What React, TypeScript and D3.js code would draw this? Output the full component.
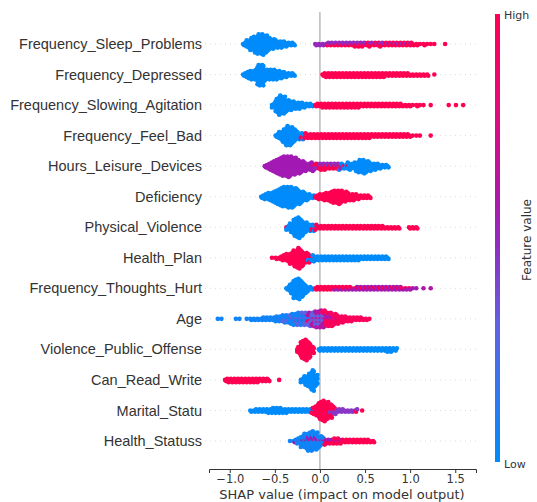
import { useEffect, useRef } from 'react';
import * as d3 from 'd3';

// [start shap value, feature value (0 low .. 1 high), dot counts per 0.04 bin]
type Cluster = [number, number, number[]];

const BIN = 0.04;

const features = [
  'Frequency_Sleep_Problems',
  'Frequency_Depressed',
  'Frequency_Slowing_Agitation',
  'Frequency_Feel_Bad',
  'Hours_Leisure_Devices',
  'Deficiency',
  'Physical_Violence',
  'Health_Plan',
  'Frequency_Thoughts_Hurt',
  'Age',
  'Violence_Public_Offense',
  'Can_Read_Write',
  'Marital_Statu',
  'Health_Statuss',
];

const sleepProblems: Cluster[] = [
  [-0.84, 0, [3, 7, 11, 14, 17, 18, 15, 11, 9, 7, 6, 5, 4, 3, 2]],
  [-0.04, 0.5, [2, 2, 2, 2, 2, 2, 2, 2, 2, 2, 2, 2, 2, 2, 1, 2, 1, 1, 2, 1, 1, 1, 1, 1, 1, 1, 1]],
  [0.08, 1, [1, 1, 1, 1, 1, 1, 1, 1, 2, 2, 2, 2, 2, 2, 2, 2, 2, 2, 2, 2, 2, 2, 2, 2, 2, 2, 1, 2, 1, 1, 1]],
  [1.4, 1, [1]],
];

const depressed: Cluster[] = [
  [-0.84, 0, [3, 6, 8, 9, 18, 18, 10, 9, 9, 8, 7, 5, 4, 3, 2]],
  [0.04, 1, [3, 4, 4, 4, 4, 4, 4, 4, 4, 4, 4, 4, 4, 4, 4, 4, 4, 4, 3, 3, 3, 3, 3, 3, 2, 2, 2, 2, 2, 2]],
  [1.28, 1, [1]],
];

const slowingAgitation: Cluster[] = [
  [-0.52, 0, [4, 12, 17, 15, 10, 8, 7, 6, 5, 4, 3, 2]],
  [-0.04, 1, [3, 3, 4, 4, 4, 4, 4, 4, 4, 4, 4, 4, 4, 3, 3, 3, 3, 3, 3, 3, 3, 3, 3, 3]],
  [0.92, 1, [2, 2, 2, 1, 2, 1, 1, 0, 1, 0]],
  [1.44, 1, [1, 0, 1, 0, 1]],
];

const feelBad: Cluster[] = [
  [-0.48, 0, [3, 7, 12, 17, 16, 11, 7, 4, 2]],
  [-0.2, 1, [2, 3, 4, 4, 4, 4, 4, 4, 4, 4, 4, 4, 4, 4, 4, 4, 4, 4, 4, 4, 3, 3, 3, 3, 3, 3, 3, 3, 3, 3]],
  [1.0, 1, [2, 1, 1, 1, 0, 0, 1]],
];

const leisureDevices: Cluster[] = [
  [-0.62, 0.55, [3, 6, 9, 12, 15, 17, 18, 17, 15, 12, 10, 8, 6, 4]],
  [-0.08, 1, [2, 3, 3, 3, 2, 2, 2, 2, 1, 1, 1]],
  [-0.08, 0.5, [2, 2, 2, 2, 2, 2, 2, 2, 2, 1, 1]],
  [0.0, 0, [1, 1, 1, 1, 1, 2, 2, 2, 2]],
  [0.3, 0, [3, 5, 8, 11, 12, 10, 8, 6, 5, 4, 3, 2]],
];

const deficiency: Cluster[] = [
  [-0.64, 0, [3, 5, 7, 9, 12, 15, 17, 18, 18, 16, 13, 10, 7, 5, 3]],
  [-0.04, 1, [3, 5, 6, 7, 9, 11, 12, 11, 9, 7, 6, 5, 4, 3, 3, 2]],
];

const physicalViolence: Cluster[] = [
  [-0.36, 1, [1]],
  [-0.36, 0, [3, 8, 15, 18, 14, 9, 6, 4, 2]],
  [-0.08, 1, [2, 3, 3, 3, 3, 3, 3, 3, 3, 3, 3, 3, 3, 3, 3, 3, 3, 3, 3, 3, 2, 2]],
  [0.8, 1, [2, 2, 2, 0, 0, 2, 2, 2]],
];

const healthPlan: Cluster[] = [
  [-0.52, 1, [1, 2, 3, 5, 7, 10, 14, 18, 14, 9, 5, 2]],
  [-0.12, 0, [3, 4, 4, 4, 4, 4, 4, 4, 4, 4, 4, 4, 4, 4, 4, 3, 3, 3, 3, 3, 3, 3, 2]],
];

const thoughtsHurt: Cluster[] = [
  [-0.36, 0, [3, 9, 16, 18, 14, 8, 4, 2]],
  [-0.04, 1, [3, 3, 3, 3, 3, 2, 2, 2, 2, 2, 1, 1, 1, 1, 1, 1, 1, 1, 1, 1, 1, 1, 1, 1, 1, 1, 1]],
  [0.16, 0.55, [1, 1, 1, 1, 1, 1, 2, 2, 2, 2, 2, 2, 2, 2, 2, 2, 2, 2, 2, 1, 1, 1, 1, 1]],
  [1.16, 0.6, [1, 0, 1]],
];

const age: Cluster[] = [
  [-1.12, 0.05, [1, 1, 0, 0, 0, 1, 1, 0, 1, 2, 2, 2, 3, 3]],
  [-0.56, 0.05, [3, 3, 4, 4, 5, 5, 5, 5, 5, 4, 3, 2]],
  [-0.48, 0.3, [1, 1, 2, 2, 3, 3, 4, 4, 5, 5, 5, 5, 4, 3]],
  [-0.32, 0.6, [1, 2, 2, 3, 3, 4, 5, 6, 7, 6, 5, 4, 2, 1]],
  [-0.12, 0.95, [1, 2, 3, 4, 6, 7, 8, 8, 7, 6, 5, 4, 4, 3, 3, 2, 2, 1]],
];

const publicOffense: Cluster[] = [
  [-0.24, 1, [6, 15, 18, 14, 6]],
  [0.0, 0, [3, 3, 3, 3, 3, 3, 3, 3, 3, 3, 3, 3, 3, 3, 3, 3, 3, 3, 3]],
  [0.76, 0, [4, 4, 3]],
];

const canReadWrite: Cluster[] = [
  [-1.04, 1, [3, 4, 4, 4, 4, 4, 4, 4, 4, 4, 3, 3, 2]],
  [-0.44, 1, [1]],
  [-0.2, 0, [4, 8, 12, 18, 10]],
];

const maritalStatu: Cluster[] = [
  [-0.76, 0, [2, 3, 3, 3, 3, 4, 5, 5, 5, 4, 4, 3, 3, 3, 3, 3, 3, 2]],
  [-0.08, 1, [4, 9, 15, 18, 15, 9, 4]],
  [0.12, 0.45, [3, 3, 3, 3, 2, 2, 2, 2]],
  [0.4, 1, [1, 0, 1]],
];

const healthStatuss: Cluster[] = [
  [-0.32, 0.05, [1, 2, 4, 7, 10, 12, 13, 11, 7, 3]],
  [-0.28, 0.55, [1, 1, 2, 2, 3, 3, 3, 2, 2, 2, 2, 2, 2, 1]],
  [-0.2, 1, [1, 1, 1, 1, 1, 1, 2, 2, 2, 3, 3, 3, 3, 3, 3, 3, 3, 3, 3, 2, 2]],
];

const rows = [
  sleepProblems, depressed, slowingAgitation, feelBad, leisureDevices, deficiency,
  physicalViolence, healthPlan, thoughtsHurt, age, publicOffense, canReadWrite,
  maritalStatu, healthStatuss,
];

const xTicks = [-1.0, -0.5, 0.0, 0.5, 1.0, 1.5];

interface Dot {
  value: number;
  fv: number;
  k: number;
  row: string;
}

// stack every bin's dots symmetrically around the row line
function layoutRow(name: string, clusters: Cluster[]): Dot[] {
  const bins = new Map<number, number[][]>();
  clusters.forEach(([start, fv, counts]) => {
    const first = Math.round(start / BIN);
    counts.forEach((c, j) => {
      if (!c) return;
      const key = first + j;
      const list = bins.get(key) ?? [];
      list.push(Array(c).fill(fv));
      bins.set(key, list);
    });
  });
  const out: Dot[] = [];
  bins.forEach((lists, key) => {
    const seq: number[] = [];
    const longest = d3.max(lists, l => l.length) || 0;
    for (let i = 0; i < longest; i++) lists.forEach(l => { if (i < l.length) seq.push(l[i]); });
    seq.forEach((fv, k) => out.push({ value: key * BIN, fv, k, row: name }));
  });
  return out;
}

export default function App() {
  const svgRef = useRef<SVGSVGElement>(null);
  const width = 537;
  const height = 502;

  useEffect(() => {
    if (!svgRef.current) return;
    const svg = d3.select(svgRef.current);
    svg.selectAll('*').remove();

    const x = d3.scaleLinear().domain([-1.23, 1.73]).range([209, 476]);
    const y = d3.scalePoint<string>().domain(features).range([44, 441]);
    const color = d3.scaleLinear<string>()
      .domain([0, 0.3, 0.55, 0.8, 1])
      .range(['#008bfb', '#5f63e3', '#a21ab3', '#e60a78', '#ff0052'])
      .interpolate(d3.interpolateRgb);

    const step = 1.2;
    const r = 2.3;

    // grid lines
    svg.append('g')
      .selectAll('line')
      .data(features)
      .join('line')
      .attr('x1', 205)
      .attr('x2', 476)
      .attr('y1', d => y(d) || 0)
      .attr('y2', d => y(d) || 0)
      .attr('stroke', '#cccccc')
      .attr('stroke-width', 0.7)
      .attr('stroke-dasharray', '1 4');

    // zero line
    svg.append('line')
      .attr('x1', x(0)).attr('x2', x(0))
      .attr('y1', 12).attr('y2', 469)
      .attr('stroke', '#999999')
      .attr('stroke-width', 1);

    // dots
    const dots = features.flatMap((f, i) => layoutRow(f, rows[i]));
    svg.append('g')
      .selectAll('circle')
      .data(dots)
      .join('circle')
      .attr('cx', d => x(d.value) + ((d.k % 3) - 1) * 1.1)
      .attr('cy', d => {
        const side = d.k % 2 ? 1 : -1;
        return (y(d.row) || 0) + (d.k === 0 ? 0 : side * Math.ceil(d.k / 2) * step);
      })
      .attr('r', r)
      .attr('fill', d => color(d.fv));

    // feature labels
    svg.append('g')
      .selectAll('text')
      .data(features)
      .join('text')
      .attr('x', 202)
      .attr('y', d => y(d) || 0)
      .attr('dy', '0.35em')
      .attr('text-anchor', 'end')
      .style('font-family', '"Liberation Sans", Arial, sans-serif')
      .style('font-size', '14.5px')
      .style('fill', '#333333')
      .text(d => d);

    // x axis
    const xAxis = svg.append('g').attr('transform', 'translate(0,469)');
    xAxis.call(d3.axisBottom(x).tickValues(xTicks).tickFormat(d3.format('.1f')).tickSize(4).tickPadding(2));
    xAxis.select('.domain').attr('stroke', '#333333');
    xAxis.selectAll('line').attr('stroke', '#333333');
    xAxis.selectAll('text')
      .style('font-family', '"DejaVu Sans", sans-serif')
      .style('font-size', '11.5px')
      .style('fill', '#333333');

    svg.append('text')
      .attr('x', 342)
      .attr('y', 499)
      .attr('text-anchor', 'middle')
      .style('font-family', '"DejaVu Sans", sans-serif')
      .style('font-size', '13px')
      .style('fill', '#333333')
      .text('SHAP value (impact on model output)');

    // colour bar
    const grad = svg.append('defs').append('linearGradient')
      .attr('id', 'fvgrad')
      .attr('x1', 0).attr('y1', 1).attr('x2', 0).attr('y2', 0);
    d3.range(0, 1.001, 0.1).forEach(t => {
      grad.append('stop').attr('offset', t).attr('stop-color', color(t));
    });
    svg.append('rect')
      .attr('x', 495).attr('y', 14)
      .attr('width', 5).attr('height', 448)
      .attr('fill', 'url(#fvgrad)');

    const cbText = (txt: string, yy: number) => svg.append('text')
      .attr('x', 504).attr('y', yy)
      .style('font-family', '"DejaVu Sans", sans-serif')
      .style('font-size', '11px')
      .style('fill', '#333333')
      .text(txt);
    cbText('High', 19);
    cbText('Low', 468);

    svg.append('text')
      .attr('transform', 'translate(531,240) rotate(-90)')
      .attr('text-anchor', 'middle')
      .style('font-family', '"DejaVu Sans", sans-serif')
      .style('font-size', '12px')
      .style('fill', '#333333')
      .text('Feature value');
  }, []);

  return (
    <svg
      ref={svgRef}
      width={width}
      height={height}
      style={{ position: 'absolute', left: 0, top: 0, background: '#ffffff' }}
    />
  );
}
